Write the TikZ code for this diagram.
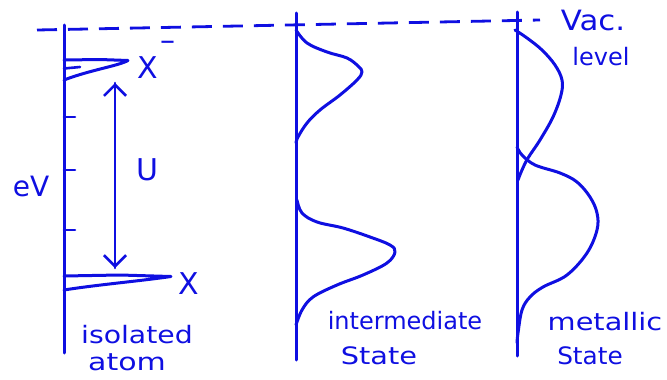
\documentclass[tikz,border=0pt]{standalone}
\usepackage{fontspec}
\setmainfont{DejaVu Sans}
\usetikzlibrary{arrows.meta}
\definecolor{ink}{RGB}{15,15,225}
\tikzset{
  pen/.style={draw=ink, line width=3pt, line cap=round, line join=round},
  thinpen/.style={draw=ink, line width=2.6pt, line cap=round, line join=round},
  lbl/.style={text=ink, inner sep=0pt, font=\fontsize{24}{26}\selectfont},
  biglbl/.style={text=ink, inner sep=0pt, font=\fontsize{30}{32}\selectfont},
  vacdash/.style={draw=ink, line width=2.8pt, dash pattern=on 20pt off 11pt},
  barb/.style={-{Straight Barb[length=11pt,width=22pt,line width=2.6pt]}}
}
\newcommand{\wide}[2]{\scalebox{#1}[1]{#2}}
\begin{document}
\begin{tikzpicture}[x=1pt,y=-1pt]
\useasboundingbox (0,0) rectangle (667,380);
% vacuum level
\coordinate (vacL) at (37,30);
\coordinate (vacR) at (540,20);
\draw[vacdash] (vacL) -- (vacR);
% axes
\coordinate (a1t) at (64,25);  \coordinate (a1b) at (64,353);
\coordinate (a2t) at (296,13); \coordinate (a2b) at (296,360);
\coordinate (a3t) at (517,12); \coordinate (a3b) at (517,356);
\draw[pen] (a1t) -- (a1b);
\draw[pen] (a2t) -- (a2b);
\draw[pen] (a3t) -- (a3b);
% ticks
\foreach \y in {117,170,230}{\draw[thinpen] (64,\y) -- (75,\y);}
% isolated atom levels
\draw[pen] (64,60) -- (100,59.5) -- (128,60.5)
  .. controls (118,66) and (90,70) .. (64,80);
\draw[thinpen] (64,68.5) -- (80,67);
\draw[pen] (64,276) -- (120,275) -- (171,276.5)
  .. controls (140,281) and (95,285) .. (64,290);
% U arrow
\coordinate (uTop) at (115,83);
\coordinate (uBot) at (115,268);
\draw[thinpen,barb] (uBot) -- (uTop);
\draw[thinpen,barb] (uTop) -- (uBot);
% intermediate state
\draw[pen] plot[smooth,tension=0.6] coordinates {(296,30) (307,43) (327,52) (347,58) (358,66) (362,72) (357,80) (340,95) (320,110) (307,123) (298,137) (296,143)};
\draw[pen] plot[smooth,tension=0.6] coordinates {(297,200) (302,213) (317,222) (343,228) (370,237) (390,245) (395,252) (387,263) (363,275) (337,285) (313,297) (302,310) (296,325)};
% metallic state
\draw[pen] plot[smooth,tension=0.6] coordinates {(515,30) (527,38) (542,50) (555,65) (562,80) (561,95) (553,117) (540,140) (528,158) (522,170) (518,180)};
\draw[pen] plot[smooth,tension=0.6] coordinates {(517,147) (522,155) (535,165) (560,173) (577,182) (590,197) (597,213) (597,230) (587,253) (567,275) (543,287) (530,297) (522,310) (518,333) (517,343)};
% labels
\node[lbl,font=\fontsize{28}{30}\selectfont] (eV) at (31,186) {eV};
\node[biglbl] (Xm) at (148,68) {X};
\node[biglbl] (minus) at (168,46) {–};
\node[biglbl] (U) at (147,170) {U};
\node[biglbl] (X) at (189,284) {X};
\node[lbl] (iso) at (137,335) {\wide{1.18}{isolated}};
\node[lbl] (atom) at (127,362) {\wide{1.25}{atom}};
\node[lbl] (inter) at (405,321) {intermediate};
\node[lbl] (st2) at (379,356) {\wide{1.2}{State}};
\node[lbl] (met) at (605,322) {\wide{1.2}{metallic}};
\node[lbl] (st3) at (590,356) {\wide{1.03}{State}};
\node[lbl,font=\fontsize{28}{30}\selectfont] (vac) at (593,20) {\wide{1.1}{Vac.}};
\node[lbl] (lev) at (601,57) {level};
\end{tikzpicture}
\end{document}
